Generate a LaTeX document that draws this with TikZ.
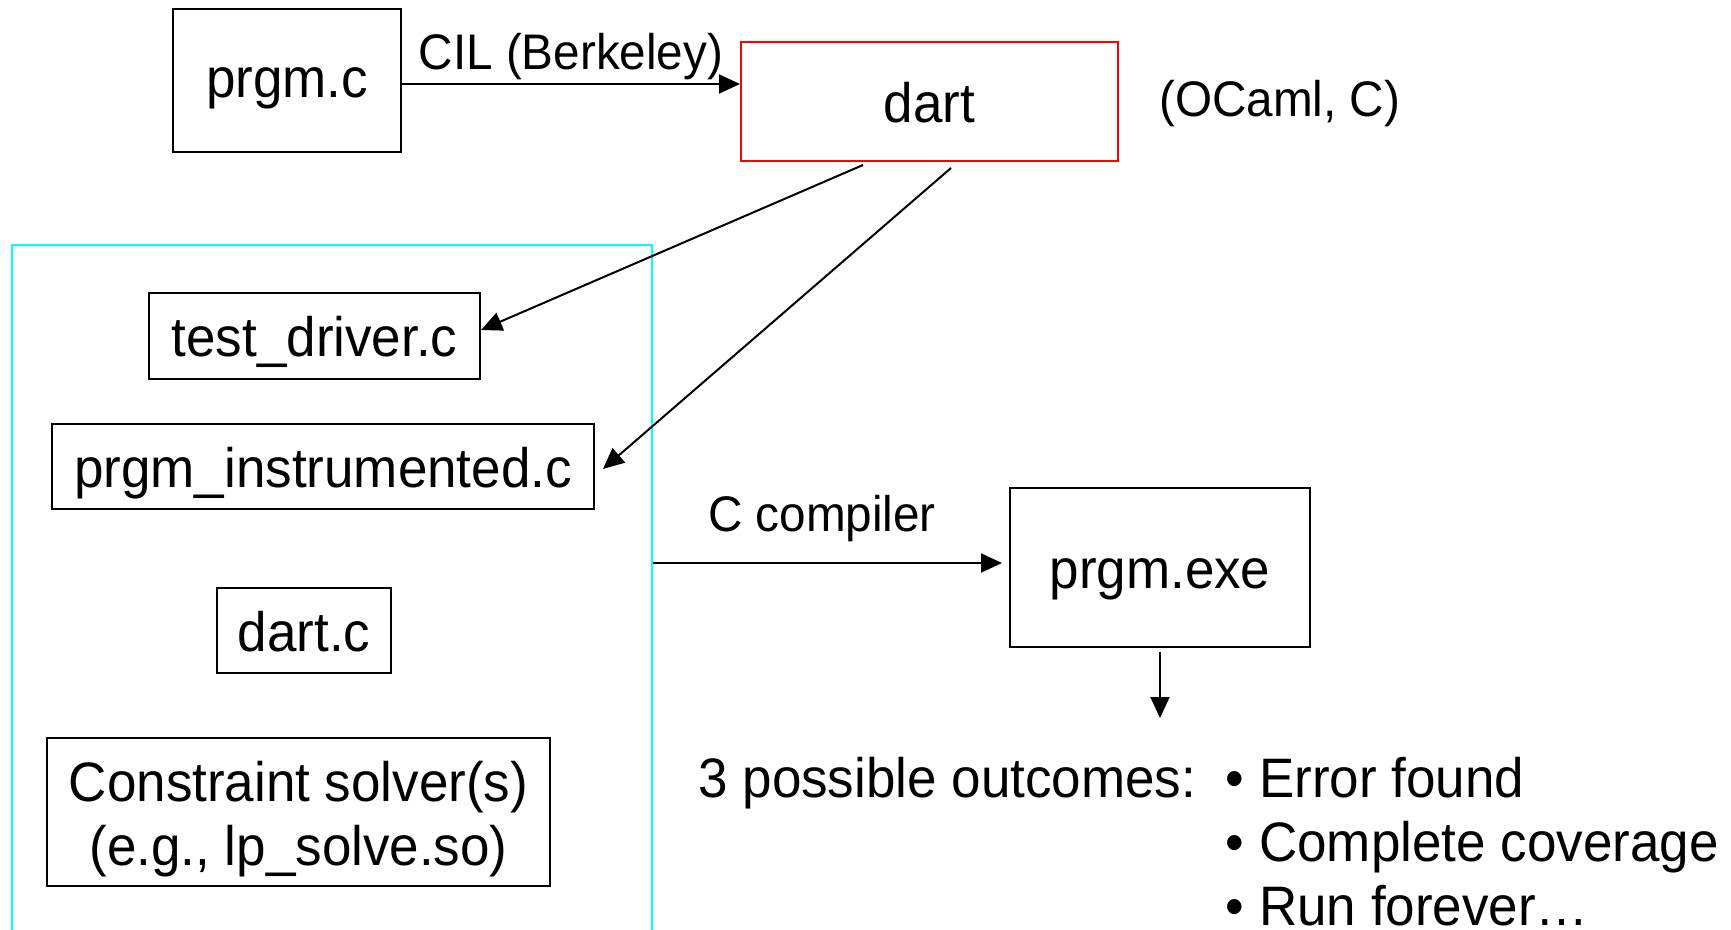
\documentclass[tikz,border=0pt]{standalone}
\usepackage{fontspec}
\setmainfont{Liberation Sans}[FakeStretch=0.953]
\usetikzlibrary{arrows.meta,positioning}
\definecolor{aqua}{RGB}{0,255,255}
\definecolor{pured}{RGB}{255,0,0}

\begin{document}
\begin{tikzpicture}[
    x=0.5pt, y=-0.5pt,
    frm/.style={rectangle, draw=black, line width=1pt, inner sep=0pt,
                align=center, font=\fontsize{27.8}{32}\selectfont},
    box/.style={frm, text height=24pt, text depth=3pt},
    txt/.style={inner sep=0pt, align=left, font=\fontsize{27.8}{32}\selectfont},
    lbl/.style={inner sep=0pt, font=\fontsize{25}{29}\selectfont},
    frame/.style={rectangle, draw=aqua, line width=1pt, inner sep=0pt},
    arr/.style={-{Triangle[length=10.5pt, width=9.5pt]}, line width=1pt}
]
\useasboundingbox (0,0) rectangle (1731,930);

% --- top row: source and tool ---
\node[box, minimum width=114pt, minimum height=71.5pt,
      text height=20pt, text depth=3.4pt] (prgm) at (287,80.5) {prgm.c};
\node[box, draw=pured, minimum width=188.5pt, minimum height=59.5pt,
      right=169pt of prgm, yshift=-10.5pt] (dart) {dart};
\node[lbl, right=20pt of dart, yshift=-1pt] (ocaml) {(OCaml, C)};

% --- generated files ---
\node[frame, minimum width=320pt, minimum height=348pt, anchor=north west] (src) at (11,244) {};
\node[box, minimum width=165.5pt, minimum height=43pt] (drv) at (314.5,336) {test\_driver.c};
\node[box, minimum width=271pt, minimum height=42.5pt,
      below=21.5pt of drv, xshift=4.25pt] (instr) {prgm\_instrumented.c};
\node[box, minimum width=87pt, minimum height=42.5pt,
      below=38.7pt of instr, xshift=-9.5pt] (dartc) {dart.c};
\node[frm, minimum width=251.5pt, minimum height=74pt,
      below=31.5pt of dartc, xshift=-2.75pt] (solver)
     {\rule{0pt}{27pt}Constraint solver(s)\\(e.g., lp\_solve.so)};

% --- executable and outcomes ---
\node[box, minimum width=150pt, minimum height=79.5pt] (exe) at (1160,567.5) {prgm.exe};
\coordinate[below=35pt of exe.south] (down);
\node[txt, anchor=base west] (outc) at (698,797) {3 possible outcomes:};
\node[txt, right=14.5pt of outc.base east, anchor=base west, yshift=-64pt] (res)
     {• Error found\\• Complete coverage\\• Run forever…};

% arrows
\draw[arr] ([yshift=-1.75pt]prgm.east) -- ([yshift=-1.75pt]prgm.east -| dart.west)
    node[lbl, midway, above=1.5pt] (cil) {CIL (Berkeley)};
\draw[arr] ([xshift=-33.25pt, yshift=-1.5pt]dart.south) -- ([yshift=3pt]drv.east);
\draw[arr] ([xshift=10.75pt, yshift=-3pt]dart.south) -- ([xshift=4pt, yshift=-1.25pt]instr.east);
\draw[arr, shorten >=3.5pt] ([yshift=2.25pt]src.east |- exe) -- ([yshift=2.25pt]exe.west)
    node[lbl, midway, above=10pt, xshift=-4.5pt] (cc) {C compiler};
\draw[arr, shorten <=2pt] (exe) -- (down);

\end{tikzpicture}
\end{document}
